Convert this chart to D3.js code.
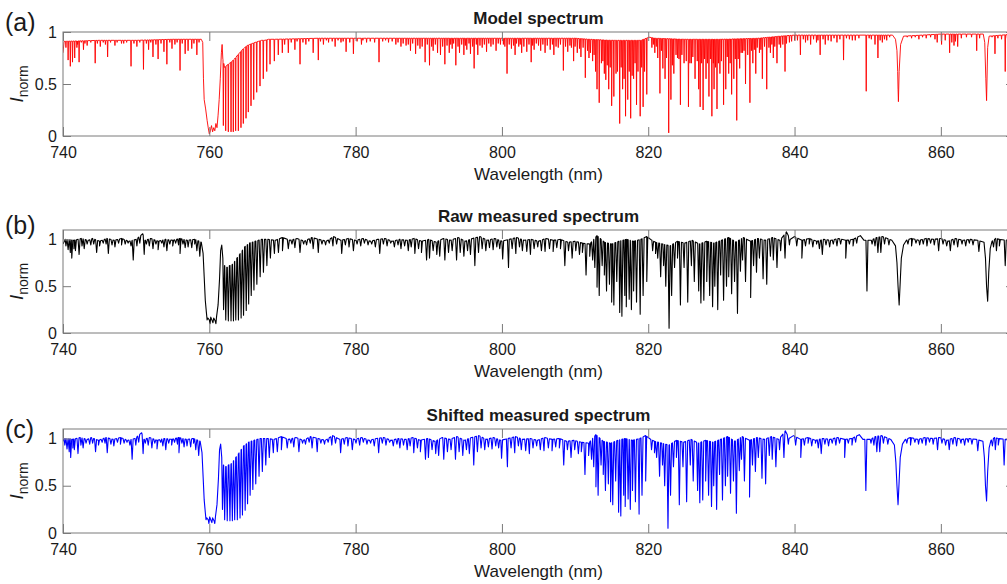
<!DOCTYPE html>
<html><head><meta charset="utf-8">
<script src="https://cdn.jsdelivr.net/npm/d3@7"></script>
<style>
body{margin:0;background:#fff}
svg{display:block}
text{font-family:"Liberation Sans",Arial,Helvetica,sans-serif;fill:#1a1a1a}
</style>
</head><body>
<svg id="chart" width="1007" height="584"></svg>
<script>
// ---------------- data ----------------
const xDomain = [740, 870];
const xTickValues = [740, 760, 780, 800, 820, 840, 860];
const yTickValues = [0, 0.5, 1];
const panelTitles = ["Model spectrum", "Raw measured spectrum", "Shifted measured spectrum"];
const panelLetters = ["(a)", "(b)", "(c)"];
const panelYMax = [1, 1.1, 1.1];
const xLabel = "Wavelength (nm)";
const measuredShiftNm = -0.15;   // shift applied to the raw measurement in (c)

// model spectrum: envelope knots [nm, I] (continuum / band envelope)
const modelEnvelope = [
 [740.0,0.80],[740.15,0.91],[745,0.92],[750,0.92],[755,0.93],[758.9,0.93],[759.1,0.90],[759.2,0.55],
 [759.3,0.35],[759.5,0.26],[759.7,0.15],[759.85,0.08],[760.0,0.02],[760.15,0.05],[760.3,0.10],[760.45,0.04],
 [760.6,0.08],[760.75,0.05],[760.9,0.12],[761.05,0.08],[761.2,0.20],[761.35,0.35],[761.5,0.55],[761.65,0.80],
 [761.75,0.88],[761.85,0.74],[762.08,0.66],[762.42,0.68],[762.78,0.70],[763.12,0.72],[763.44,0.74],[763.78,0.77],
 [764.15,0.80],[764.5,0.83],[764.83,0.85],[765.18,0.87],[765.5,0.88],[765.88,0.89],[766.27,0.90],[766.7,0.91],
 [767.15,0.92],[767.6,0.92],[768.1,0.93],[769,0.93],[775,0.94],[790,0.94],[800,0.94],[810,0.94],[812,0.93],
 [815,0.92],[819,0.92],[820.1,0.95],[821,0.94],[825,0.93],[830,0.93],[835,0.94],
 [838,0.96],[840,0.97],[850,0.97],[853.4,0.97],[853.8,0.93],[854.0,0.82],[854.1,0.62],[854.15,0.45],
 [854.2,0.33],[854.3,0.62],[854.5,0.88],[854.9,0.96],[860,0.98],[865.8,0.98],[866.0,0.90],[866.15,0.55],
 [866.25,0.34],[866.4,0.85],[866.6,0.96],[870,0.98]
];
// model spectrum: strong absorption lines [centre nm, minimum I]
const modelLines = [
 [740.7,0.73],[741.0,0.67],[741.3,0.71],[741.6,0.75],[741.9,0.85],[742.2,0.71],[742.8,0.83],[743.3,0.87],
 [744.4,0.70],[745.1,0.86],[746.1,0.76],[747.1,0.87],[748.0,0.89],[749.3,0.67],[750.1,0.86],[751.0,0.64],
 [751.7,0.83],[752.3,0.76],[753.0,0.74],[753.8,0.81],[754.2,0.69],[754.9,0.84],[756.0,0.63],[756.7,0.79],
 [757.1,0.82],[757.6,0.84],[758.3,0.78],
 [761.92,0.10],[762.24,0.05],[762.6,0.04],[762.97,0.04],[763.28,0.04],[763.6,0.05],[763.97,0.05],[764.33,0.08],
 [764.65,0.12],[765.02,0.17],[765.33,0.23],[765.7,0.29],[766.07,0.35],[766.48,0.42],[766.93,0.48],[767.38,0.55],
 [767.85,0.62],[768.3,0.69],[768.89,0.72],[769.43,0.78],[769.98,0.80],
 [770.8,0.80],[771.7,0.83],[772.4,0.69],[773.2,0.88],[774.2,0.80],[774.9,0.73],[775.6,0.88],[776.3,0.90],
 [777.2,0.86],[778.0,0.90],[778.7,0.81],[779.2,0.90],[779.7,0.79],[780.8,0.88],[781.5,0.90],[783.2,0.71],
 [784.5,0.90],[785.5,0.88],[786.2,0.86],[786.9,0.87],[787.5,0.82],[788.2,0.79],[788.8,0.84],[789.5,0.71],
 [790.1,0.68],[790.6,0.82],[791.2,0.80],[791.6,0.78],[792.2,0.69],[792.8,0.80],[793.2,0.84],[793.7,0.68],
 [794.2,0.80],[794.8,0.78],[795.2,0.83],[795.7,0.79],[796.2,0.65],[796.7,0.78],[797.3,0.85],[797.9,0.81],
 [798.5,0.86],[799.2,0.82],[799.8,0.88],[800.7,0.60],[801.3,0.84],[801.8,0.78],[802.3,0.86],[802.7,0.80],
 [803.4,0.81],[804.0,0.71],[804.4,0.83],[805.3,0.82],[805.9,0.80],[806.6,0.83],[807.1,0.78],[807.7,0.85],
 [808.4,0.63],[809.0,0.81],[809.8,0.72],[810.3,0.80],[810.8,0.76],[811.4,0.56],[811.9,0.75],[812.4,0.72],
 [812.8,0.62],[813.0,0.45],[813.3,0.32],[813.6,0.70],[814.0,0.60],[814.2,0.54],[814.6,0.45],[815.0,0.29],
 [815.3,0.38],[815.6,0.60],[816.1,0.12],[816.5,0.45],[816.9,0.19],[817.2,0.35],[817.6,0.17],[818.0,0.55],
 [818.4,0.30],[818.9,0.19],[819.3,0.28],[819.8,0.40],
 [820.5,0.85],[820.9,0.80],[821.3,0.75],[821.6,0.41],[822.0,0.65],[822.3,0.55],[822.8,0.03],[823.1,0.35],
 [823.5,0.60],[824.0,0.75],[824.4,0.30],[824.9,0.70],[825.5,0.28],[825.9,0.70],[826.4,0.55],[826.9,0.45],
 [827.1,0.28],[827.5,0.25],[827.9,0.55],[828.3,0.38],[828.7,0.19],[829.0,0.45],[829.4,0.26],[829.8,0.60],
 [830.3,0.30],[830.6,0.45],[831.0,0.60],[831.4,0.40],[831.7,0.55],[832.1,0.15],[832.5,0.65],[832.9,0.80],
 [833.3,0.50],[833.9,0.32],[834.3,0.70],[834.7,0.60],[835.2,0.80],[835.6,0.55],[836.2,0.45],[836.7,0.80],
 [837.1,0.75],[837.6,0.70],[838.1,0.85],[838.7,0.62],[839.3,0.90],
 [840.0,0.92],[840.8,0.78],[841.5,0.90],[842.2,0.88],[843.0,0.90],[843.5,0.78],[844.2,0.88],[845.0,0.91],
 [845.8,0.90],[846.7,0.73],[847.5,0.93],[848.3,0.92],[849.8,0.43],[850.5,0.93],[851.0,0.88],[851.4,0.75],
 [852.0,0.90],[852.6,0.92],[856.0,0.94],[857.0,0.93],[858.0,0.94],[859.5,0.90],[860.1,0.88],[861.2,0.80],
 [861.8,0.87],[862.3,0.86],[864.9,0.82],[867.4,0.79],[868.8,0.62],[869.5,0.90]
];
// model spectrum: weak absorption lines [centre nm, minimum I]
const modelWeakLines = [
 [740.4,0.85],[742.0,0.88],[742.5,0.90],[743.0,0.89],[743.8,0.90],[744.7,0.89],[745.5,0.90],[745.8,0.88],
 [746.5,0.90],[747.4,0.90],[748.3,0.89],[748.7,0.90],[749.7,0.89],[750.5,0.90],[751.4,0.89],[752.0,0.90],
 [752.7,0.88],[753.4,0.89],[754.6,0.90],[755.3,0.88],[755.6,0.90],[756.3,0.89],[757.9,0.89],[758.6,0.90],
 [770.3,0.88],[771.2,0.90],[772.0,0.91],[772.8,0.90],[773.6,0.91],[775.2,0.91],[776.0,0.92],[776.8,0.91],
 [777.6,0.92],[778.3,0.91],[780.2,0.91],[781.0,0.92],[782.0,0.91],[782.6,0.90],[783.7,0.91],[784.1,0.92],
 [785.0,0.91],[785.8,0.90],[786.5,0.89],[787.2,0.88],[787.8,0.89],[788.5,0.87],[789.1,0.86],[789.8,0.88],
 [790.4,0.86],[790.9,0.88],[791.9,0.86],[792.5,0.87],[793.0,0.88],[793.4,0.89],[794.0,0.86],[794.5,0.88],
 [795.0,0.87],[795.5,0.89],[796.0,0.86],[796.5,0.88],[797.0,0.87],[797.6,0.88],[798.2,0.89],[798.8,0.88],
 [799.5,0.89],[800.2,0.88],[800.4,0.86],[801.0,0.88],[801.6,0.87],[802.0,0.89],[802.5,0.88],[803.0,0.86],
 [803.7,0.88],[804.2,0.87],[804.7,0.89],[805.0,0.87],[805.6,0.88],[806.2,0.87],[806.9,0.88],[807.4,0.86],
 [808.0,0.88],[808.7,0.86],[809.3,0.87],[809.5,0.85],[810.0,0.86],[810.6,0.84],[811.1,0.85],[811.7,0.82],
 [812.1,0.80],[812.6,0.78],
 [813.8,0.72],[814.4,0.68],[814.8,0.66],[815.8,0.62],[816.3,0.66],[816.7,0.55],[817.4,0.62],[817.8,0.58],
 [818.2,0.70],[818.6,0.62],[819.1,0.66],[819.5,0.62],
 [820.7,0.88],[821.1,0.86],[821.8,0.82],[822.5,0.75],[823.3,0.68],[823.8,0.78],[824.2,0.74],[824.6,0.78],
 [825.2,0.72],[825.7,0.70],[826.1,0.76],[826.7,0.72],[827.3,0.70],[827.7,0.74],[828.1,0.70],[828.5,0.74],
 [828.9,0.70],[829.2,0.66],[829.6,0.70],[830.0,0.72],[830.8,0.76],[831.2,0.70],[831.9,0.74],[832.3,0.74],
 [832.7,0.80],[833.1,0.82],[833.6,0.78],[834.1,0.82],[834.5,0.83],[834.9,0.85],[835.4,0.83],[835.9,0.86],
 [836.5,0.85],[836.9,0.88],[837.3,0.86],[837.9,0.88],[838.4,0.88],[838.9,0.89],[839.6,0.91],
 [840.4,0.92],[841.2,0.93],[841.8,0.92],[842.6,0.93],[843.2,0.92],[843.9,0.93],[844.6,0.92],[845.4,0.94],
 [846.2,0.93],[847.1,0.94],[847.9,0.92],[848.8,0.94],[850.2,0.94],[851.7,0.92],[852.3,0.93],[853.0,0.95],
 [855.4,0.95],[856.5,0.95],[857.5,0.95],[858.6,0.95],[859.2,0.93],[860.6,0.92],[861.5,0.90],[862.0,0.91],
 [862.8,0.94],[863.5,0.95],[864.2,0.95],[865.3,0.94],[867.0,0.95],[867.8,0.94],[868.3,0.93],[869.1,0.94]
];

// measured spectrum: envelope knots [nm, I]
const measuredEnvelope = [
 [740.0,0.95],[740.3,1.00],[741.5,0.99],[742.5,1.01],[743.5,0.99],[744.0,1.01],[745.0,0.98],[746.0,1.01],
 [747.0,0.99],[748.0,1.01],[749.0,0.98],[750.0,1.00],[750.9,1.06],[751.2,0.99],[752.0,1.01],[753.0,0.98],
 [754.0,1.00],[755.0,0.99],[756.0,1.01],[757.0,0.99],[758.0,1.00],[758.9,0.97],[759.15,0.85],[759.3,0.60],
 [759.45,0.35],[759.6,0.22],[759.8,0.16],[760.0,0.14],[760.2,0.17],[760.4,0.13],[760.6,0.16],[760.8,0.13],
 [761.0,0.18],[761.2,0.30],[761.4,0.58],[761.55,0.88],[761.7,0.94],[761.85,0.80],[762.08,0.72],[762.42,0.70],
 [762.78,0.72],[763.12,0.73],[763.44,0.76],[763.78,0.80],[764.15,0.84],[764.5,0.88],[764.83,0.92],[765.18,0.94],
 [765.5,0.96],[765.88,0.97],[766.27,0.98],[766.7,0.99],[767.15,1.00],[768.0,1.00],[769.0,0.99],[770.0,1.02],
 [771.0,0.99],[772.0,1.01],[773.0,0.98],[774.0,1.02],[775.0,1.00],[776.0,0.98],[777.0,1.03],[778.0,0.99],
 [779.0,1.01],[780.0,0.99],[781.0,1.01],[782.0,0.98],[783.0,1.00],[784.0,1.01],[785.0,0.98],[786.0,1.00],
 [787.0,0.99],[788.0,1.01],[789.0,0.98],[790.0,1.00],[791.0,0.97],[792.0,1.01],[793.0,0.99],[794.0,1.02],
 [795.0,0.98],[796.0,1.01],[797.0,1.03],[798.0,0.99],[799.0,1.01],[800.0,0.98],[801.0,1.00],[802.0,1.02],
 [803.0,0.99],[804.0,1.00],[805.0,0.98],[806.0,1.01],[807.0,0.99],[808.0,1.00],[809.0,0.97],[810.0,0.98],
 [811.0,0.96],[812.0,0.95],[813.0,1.04],[814.0,0.97],[815.0,0.95],[816.0,0.98],[817.0,1.00],[818.0,0.98],
 [819.0,1.00],[819.8,1.03],[820.5,0.99],[821.0,0.97],[822.0,0.95],[823.0,0.93],[824.0,0.98],[825.0,0.96],
 [826.0,0.99],[827.0,0.95],[828.0,0.98],[829.0,0.96],[830.0,0.99],[831.0,1.02],[832.0,0.97],[833.0,1.02],
 [834.0,0.98],[835.0,1.01],[836.0,0.99],[837.0,1.02],[838.0,0.99],[838.9,1.08],[839.4,1.00],[840.0,1.03],
 [841.0,0.99],[842.0,1.01],[843.0,0.98],[844.0,1.00],[845.0,0.99],[846.0,1.01],[847.0,0.99],[848.0,1.00],
 [849.0,1.04],[849.5,0.99],[850.5,0.99],[851.2,1.02],[852.0,1.03],[852.7,1.01],[853.3,0.99],[853.8,0.93],
 [854.0,0.75],[854.15,0.50],[854.3,0.30],[854.45,0.55],[854.6,0.80],[854.9,0.94],[855.3,0.99],[856.0,1.01],
 [857.0,0.99],[858.0,1.01],[859.0,1.00],[860.0,1.01],[861.0,0.98],[862.0,1.01],[863.0,0.99],[864.0,1.00],
 [865.0,0.99],[865.9,0.97],[866.1,0.80],[866.25,0.50],[866.4,0.34],[866.55,0.65],[866.75,0.90],[867.0,0.98],
 [867.5,1.01],[868.0,1.00],[869.0,0.99],[870.0,0.98]
];
// measured spectrum: absorption features [centre nm, minimum I]
const measuredLines = [
 [740.4,0.93],[740.7,0.89],[741.0,0.86],[741.2,0.80],[741.5,0.90],[741.7,0.88],[742.2,0.84],[742.6,0.93],
 [742.9,0.90],[743.3,0.95],[743.8,0.94],[744.2,0.95],[744.6,0.86],[745.0,0.93],[745.5,0.96],[745.9,0.95],
 [746.2,0.85],[746.7,0.94],[747.1,0.92],[747.6,0.96],[748.0,0.94],[748.5,0.95],[748.9,0.96],[749.3,0.93],
 [749.6,0.78],[750.1,0.93],[750.5,0.96],[751.1,0.84],[751.4,0.95],[751.8,0.93],[752.3,0.90],[752.7,0.95],
 [753.0,0.89],[753.5,0.96],[753.8,0.92],[754.2,0.88],[754.6,0.95],[755.0,0.93],[755.4,0.96],[755.8,0.94],
 [756.0,0.85],[756.4,0.95],[756.7,0.91],[757.1,0.92],[757.6,0.91],[758.0,0.95],[758.3,0.88],[758.7,0.82],
 [759.7,0.14],[760.1,0.10],[760.5,0.11],[760.9,0.10],
 [761.95,0.25],[762.25,0.14],[762.6,0.13],[762.97,0.13],[763.3,0.13],[763.62,0.14],[763.98,0.14],[764.35,0.16],
 [764.68,0.19],[765.05,0.24],[765.38,0.31],[765.73,0.40],[766.1,0.46],[766.5,0.52],[766.95,0.60],[767.4,0.65],
 [767.87,0.72],[768.35,0.80],[768.9,0.85],[769.45,0.86],[770.0,0.88],
 [770.8,0.90],[771.3,0.95],[771.7,0.91],[772.4,0.86],[772.9,0.95],[773.3,0.94],[773.8,0.96],[774.2,0.90],
 [774.9,0.86],[775.4,0.95],[775.9,0.94],[776.4,0.96],[776.9,0.93],[777.4,0.95],[778.1,0.85],[778.6,0.94],
 [779.1,0.92],[779.7,0.88],[780.2,0.95],[780.7,0.93],[781.2,0.96],[781.7,0.94],[782.2,0.95],[782.7,0.92],
 [783.3,0.85],[783.8,0.95],[784.3,0.93],[784.8,0.96],[785.3,0.92],[785.8,0.94],[786.2,0.90],[786.7,0.93],
 [787.2,0.88],[787.6,0.92],[788.1,0.85],[788.6,0.90],[789.0,0.86],[789.7,0.78],[790.1,0.80],[790.6,0.88],
 [791.1,0.84],[791.5,0.82],[792.2,0.78],[792.7,0.86],[793.2,0.88],[793.8,0.78],[794.3,0.86],[794.8,0.82],
 [795.3,0.88],[795.7,0.84],[796.3,0.72],[796.8,0.86],[797.3,0.90],[797.8,0.88],[798.3,0.91],[798.8,0.89],
 [799.3,0.92],[799.7,0.90],[800.1,0.79],[800.9,0.70],[801.4,0.90],[801.9,0.85],[802.4,0.92],[802.8,0.88],
 [803.4,0.87],[803.9,0.84],[804.4,0.90],[804.9,0.92],[805.4,0.88],[805.9,0.87],[806.5,0.90],[807.0,0.87],
 [807.5,0.91],[808.0,0.90],[808.6,0.72],[809.1,0.88],[809.6,0.80],[810.1,0.88],[810.6,0.84],[811.0,0.86],
 [811.5,0.62],[812.0,0.82],[812.4,0.78],[812.7,0.70],
 [813.0,0.49],[813.3,0.40],[813.7,0.72],[814.0,0.62],[814.3,0.45],[814.7,0.52],[815.0,0.33],[815.3,0.30],
 [815.7,0.55],[816.1,0.22],[816.4,0.18],[816.8,0.40],[817.0,0.28],[817.4,0.36],[817.7,0.25],[818.0,0.45],
 [818.4,0.33],[818.9,0.20],[819.3,0.40],[819.8,0.55],
 [820.6,0.88],[821.0,0.85],[821.3,0.80],[821.7,0.60],[822.1,0.72],[822.4,0.50],[822.85,0.05],[823.2,0.40],
 [823.6,0.70],[824.0,0.80],[824.4,0.30],[824.9,0.70],[825.4,0.33],[825.9,0.72],[826.3,0.55],[826.9,0.45],
 [827.2,0.32],[827.6,0.35],[828.0,0.55],[828.4,0.40],[828.8,0.28],[829.1,0.50],[829.5,0.25],[829.9,0.62],
 [830.3,0.35],[830.7,0.50],[831.0,0.60],[831.4,0.42],[831.8,0.55],[832.2,0.21],[832.6,0.66],[832.9,0.78],
 [833.3,0.55],[834.0,0.38],[834.4,0.72],[834.8,0.65],[835.2,0.80],[835.7,0.58],[836.2,0.52],[836.7,0.82],
 [837.1,0.78],[837.6,0.70],[838.1,0.88],[838.7,0.80],[839.3,0.94],
 [840.3,0.93],[841.0,0.80],[841.5,0.93],[842.0,0.95],[842.5,0.92],[843.0,0.95],[843.4,0.90],[843.8,0.84],
 [844.3,0.94],[844.8,0.92],[845.3,0.95],[845.8,0.93],[846.3,0.95],[847.0,0.80],[847.5,0.95],[848.0,0.93],
 [848.5,0.96],[849.9,0.45],[850.6,0.95],[851.0,0.93],[851.4,0.86],[851.8,0.86],[852.3,0.95],[852.9,0.94],
 [855.5,0.95],[856.0,0.93],[856.6,0.96],[857.1,0.94],[857.6,0.95],[858.1,0.93],[858.6,0.96],[859.1,0.94],
 [859.7,0.88],[860.3,0.95],[860.8,0.93],[861.3,0.88],[861.8,0.94],[862.3,0.92],[862.9,0.95],[863.4,0.93],
 [863.9,0.96],[864.4,0.94],[865.2,0.87],[867.2,0.92],[867.6,0.88],[868.0,0.93],[868.8,0.72],[869.4,0.94]
];
const modelHalfWidthNm = 0.05;
const measuredHalfWidthNm = 0.14;

// ---------------- drawing ----------------
function spectrumPoints(envelope, lines, halfWidth, shift) {
  const env = d3.scaleLinear().domain(envelope.map(d => d[0])).range(envelope.map(d => d[1])).clamp(true);
  const pts = envelope.map(d => [d[0], d[1]]);
  lines.forEach(([nm, v]) => {
    pts.push([nm - halfWidth, env(nm - halfWidth)], [nm, v], [nm + halfWidth, env(nm + halfWidth)]);
  });
  pts.sort((a, b) => a[0] - b[0]);
  return pts.map(([nm, v]) => [nm + shift, v]);
}

const panels = [
  {pts: spectrumPoints(modelEnvelope, modelLines.concat(modelWeakLines), modelHalfWidthNm, 0), color: "#ff0000", width: 0.9, top: 32, height: 104, letterY: 31},
  {pts: spectrumPoints(measuredEnvelope, measuredLines, measuredHalfWidthNm, 0), color: "#000000", width: 1.1, top: 230, height: 103, letterY: 234},
  {pts: spectrumPoints(measuredEnvelope, measuredLines, measuredHalfWidthNm, measuredShiftNm), color: "#0000ff", width: 1.1, top: 429, height: 104, letterY: 438}
];

const svg = d3.select("#chart");
const left = 63, right = 1014;
const axisColor = "#7a7a7a";
const x = d3.scaleLinear().domain(xDomain).range([left, right]);

panels.forEach((p, i) => {
  const y = d3.scaleLinear().domain([0, panelYMax[i]]).range([p.top + p.height, p.top]);
  const g = svg.append("g");
  const clipId = "clip" + i;
  svg.append("clipPath").attr("id", clipId).append("rect")
    .attr("x", left).attr("y", p.top - 1).attr("width", right - left).attr("height", p.height + 2);

  const line = d3.line().x(d => x(d[0])).y(d => y(d[1]));
  g.append("path").attr("d", line(p.pts)).attr("clip-path", `url(#${clipId})`)
    .attr("fill", "none").attr("stroke", p.color).attr("stroke-width", p.width).attr("stroke-linejoin", "round");

  const fmt = d3.format("~g");
  const bottom = g.append("g").attr("transform", `translate(0,${p.top + p.height})`)
    .call(d3.axisBottom(x).tickValues(xTickValues).tickSize(-9).tickSizeOuter(0).tickPadding(11).tickFormat(fmt));
  const topAx = g.append("g").attr("transform", `translate(0,${p.top})`)
    .call(d3.axisTop(x).tickValues(xTickValues).tickSize(-9).tickSizeOuter(0).tickFormat(""));
  const leftAx = g.append("g").attr("transform", `translate(${left},0)`)
    .call(d3.axisLeft(y).tickValues(yTickValues).tickSize(-8).tickSizeOuter(0).tickPadding(6).tickFormat(fmt));
  const rightAx = g.append("g").attr("transform", `translate(${right},0)`)
    .call(d3.axisRight(y).tickValues(yTickValues).tickSize(-8).tickSizeOuter(0).tickFormat(""));
  [bottom, topAx, leftAx, rightAx].forEach(a => {
    a.select(".domain").remove();
    a.selectAll(".tick line").attr("stroke", axisColor);
    a.selectAll(".tick text").attr("font-size", 16).attr("fill", "#1a1a1a")
      .style("font-family", '"Liberation Sans", Arial, sans-serif');
  });
  g.append("rect").attr("x", left).attr("y", p.top).attr("width", right - left).attr("height", p.height)
    .attr("fill", "none").attr("stroke", axisColor).attr("stroke-width", 1);

  g.append("text").attr("x", (left + right) / 2).attr("y", p.top - 8).attr("text-anchor", "middle")
    .attr("font-size", 17).attr("font-weight", "bold").text(panelTitles[i]);
  g.append("text").attr("x", (left + right) / 2).attr("y", p.top + p.height + 44).attr("text-anchor", "middle")
    .attr("font-size", 17).text(xLabel);
  g.append("text").attr("x", 5).attr("y", p.letterY).attr("font-size", 25).text(panelLetters[i]);

  const yl = g.append("text").attr("transform", `translate(23,${p.top + p.height / 2}) rotate(-90)`)
    .attr("text-anchor", "middle");
  yl.append("tspan").attr("font-size", 19).attr("font-style", "italic").text("I");
  yl.append("tspan").attr("font-size", 14).attr("dy", 5).text("norm");
});
</script>
</body></html>
